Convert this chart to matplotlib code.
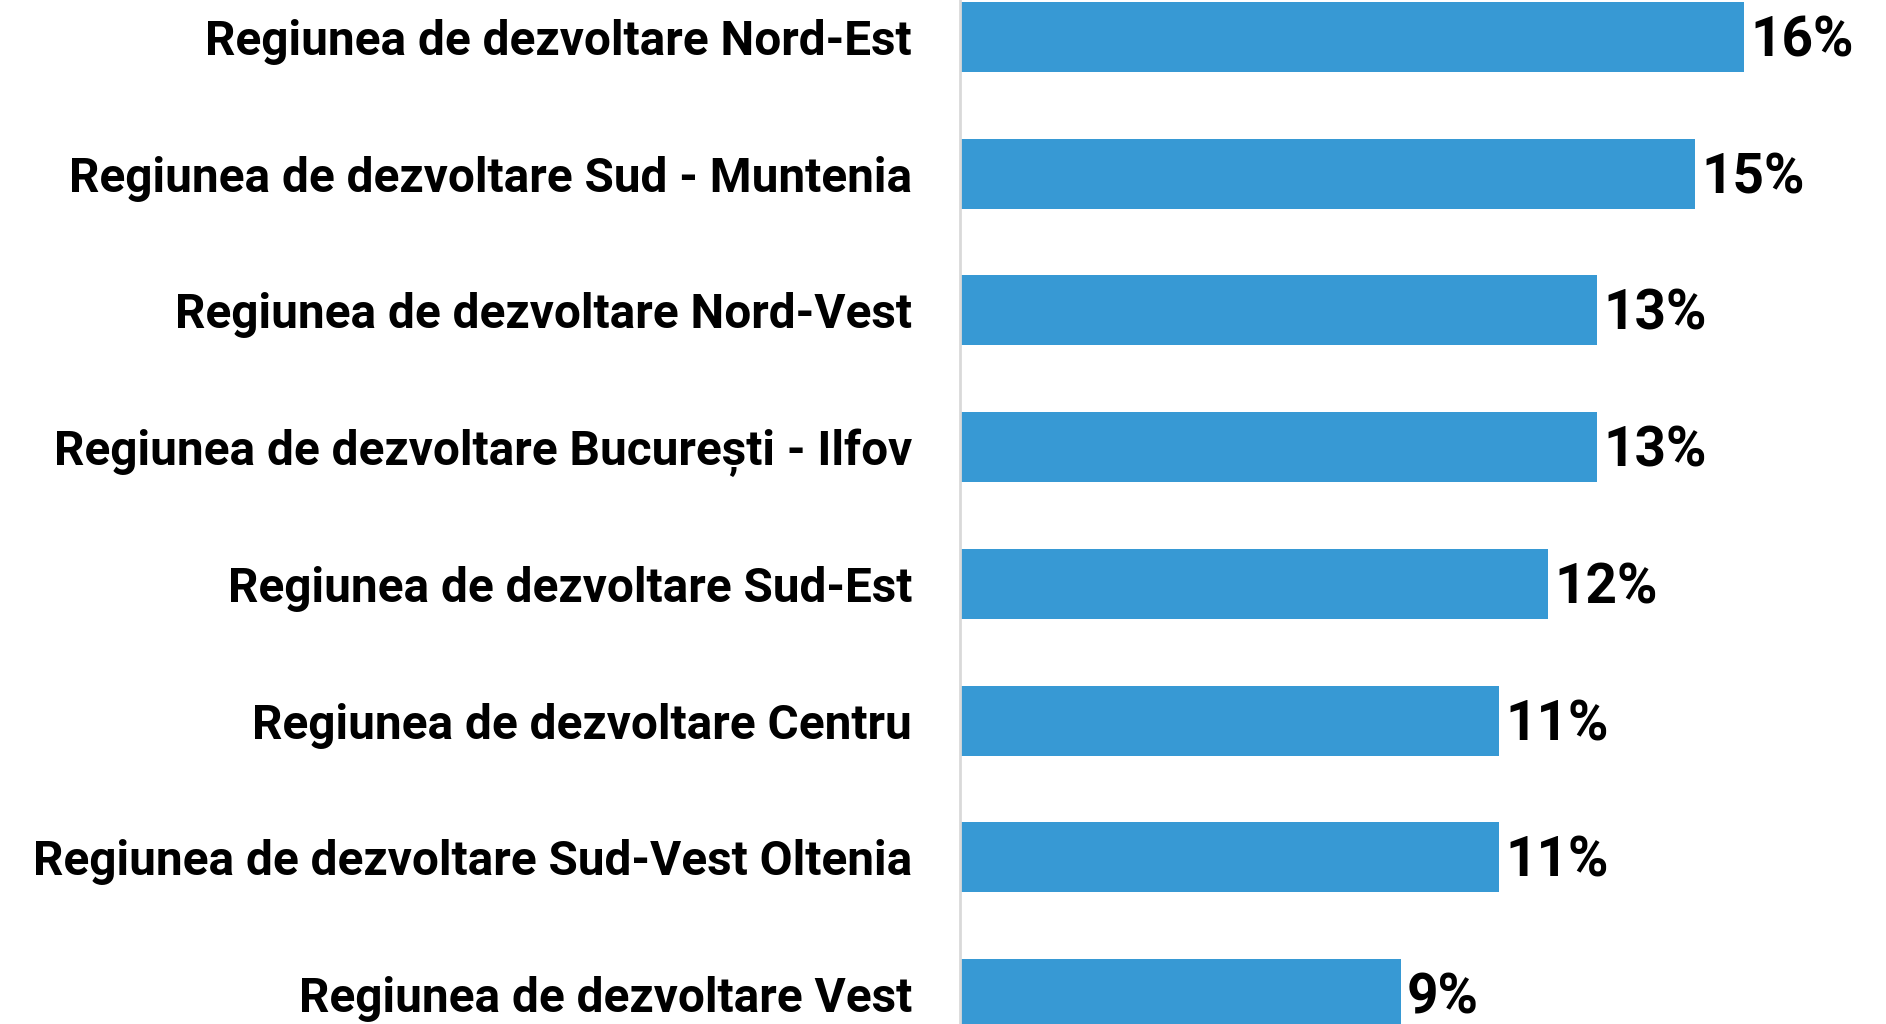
import matplotlib
matplotlib.use("Agg")
import matplotlib.pyplot as plt

regions = [
    "Regiunea de dezvoltare Nord-Est",
    "Regiunea de dezvoltare Sud - Muntenia",
    "Regiunea de dezvoltare Nord-Vest",
    "Regiunea de dezvoltare București - Ilfov",
    "Regiunea de dezvoltare Sud-Est",
    "Regiunea de dezvoltare Centru",
    "Regiunea de dezvoltare Sud-Vest Oltenia",
    "Regiunea de dezvoltare Vest",
]
shares = [16, 15, 13, 13, 12, 11, 11, 9]
value_labels = ["16%", "15%", "13%", "13%", "12%", "11%", "11%", "9%"]

W, H, DPI = 1886, 1024, 100
fig = plt.figure(figsize=(W / DPI, H / DPI), dpi=DPI)
fig.patch.set_facecolor("white")

x0 = 960          # left edge of the plotting area, px
px_per_unit = 49.0
row_px = 136.7

ax = fig.add_axes([x0 / W, 0, (W - x0) / W, 1])
ax.set_facecolor("white")

ypos = list(range(len(regions)))
ax.barh(ypos, shares, height=0.512, color="#3799d4", zorder=2)

ax.set_xlim(0, (W - x0) / px_per_unit)
ax.set_ylim(7.22, -0.2707)

for s in ["top", "right", "bottom"]:
    ax.spines[s].set_visible(False)
ax.spines["left"].set_color("#d9d9d9")
ax.spines["left"].set_linewidth(2)
ax.spines["left"].set_zorder(3)

ax.set_xticks([])
ax.set_yticks(ypos)
ax.set_yticklabels(regions, fontfamily="Roboto", fontweight="bold",
                   fontsize=34.4, color="#000000")
ax.tick_params(axis="y", length=0, pad=34.5)

# value labels: digits vertically centred on each bar
dx = 6 / px_per_unit
dy = 19.5 / row_px
for y, v, lab in zip(ypos, shares, value_labels):
    ax.text(v + dx, y + dy, lab, ha="left", va="baseline",
            fontfamily="Roboto", fontweight="bold", fontsize=39.5,
            color="#000000")

fig.savefig("out.png", dpi=DPI, facecolor="white")
